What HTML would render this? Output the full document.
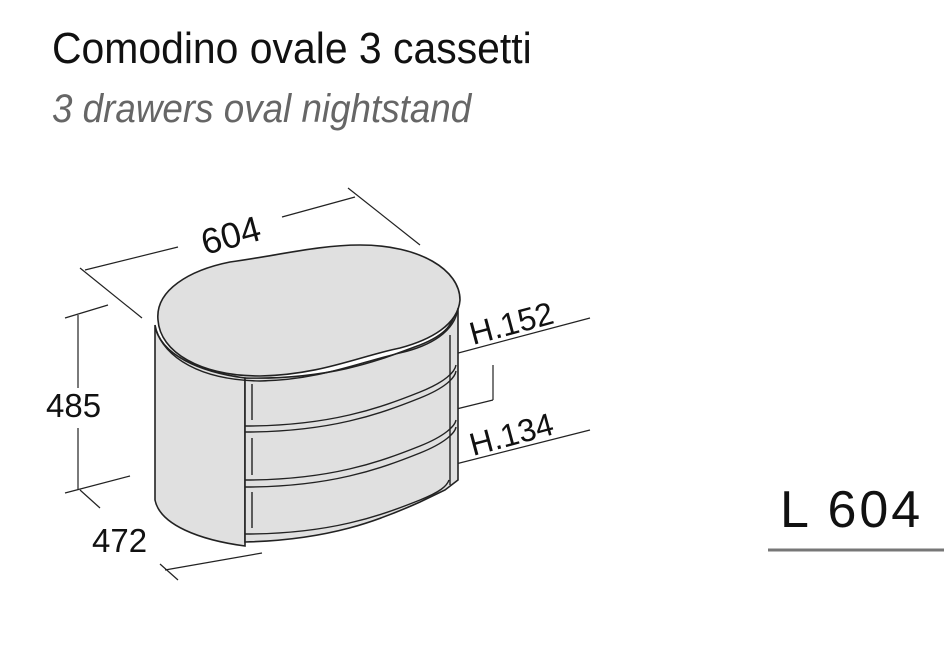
<!DOCTYPE html>
<html><head><style>
body{margin:0;width:944px;height:650px;background:#fff;overflow:hidden;font-family:"Liberation Sans",sans-serif}
svg{position:absolute;left:0;top:0}
</style></head><body>
<svg width="944" height="650" viewBox="0 0 944 650">
<text x="52" y="63" font-size="44" fill="#111" transform="translate(52,0) scale(0.93,1) translate(-52,0)">Comodino ovale 3 cassetti</text>
<text x="52" y="122" font-size="40" font-style="italic" fill="#666" transform="translate(52,0) scale(0.92,1) translate(-52,0)">3 drawers oval nightstand</text>
<g stroke="#222" stroke-width="1.2" fill="none">
<line x1="85" y1="270" x2="178" y2="247"/>
<line x1="282" y1="217" x2="355" y2="197"/>
<line x1="80" y1="268" x2="142" y2="318"/>
<line x1="348" y1="188" x2="420" y2="245"/>
<line x1="78" y1="315" x2="78" y2="388"/>
<line x1="78" y1="428" x2="78" y2="490"/>
<line x1="65" y1="318" x2="108" y2="305"/>
<line x1="65" y1="493" x2="130" y2="476"/>
<line x1="80" y1="490" x2="100" y2="508"/>
<line x1="160" y1="564" x2="178" y2="580"/>
<line x1="165" y1="570" x2="262" y2="553"/>
<line x1="432" y1="360" x2="590" y2="318"/>
<line x1="432" y1="415" x2="493" y2="400"/>
<line x1="493" y1="365" x2="493" y2="400"/>
<line x1="432" y1="470" x2="590" y2="430"/>
</g>
<text font-size="36" fill="#111" transform="translate(205,255) rotate(-15)">604</text>
<text x="46" y="417" font-size="33" fill="#111">485</text>
<text x="92" y="552" font-size="33" fill="#111">472</text>
<text font-size="32" fill="#111" transform="translate(473,345) rotate(-15)">H.152</text>
<text font-size="32" fill="#111" transform="translate(473,456) rotate(-15)">H.134</text>
<g stroke="#222" stroke-width="1.6" fill="#e0e0e0">
<path d="M155,325 L155,500 C160,525 200,540 245,546 L245,378 C200,372 160,355 155,325Z"/>
<path d="M245,378 C330,380 380,360 420,345 C445,335 455,325 458,300 L458,480 L445,490 L420,502 C380,520 330,540 245,542Z"/>
<path d="M158,320 C155,290 190,270 230,262 C280,255 320,245 360,245 C420,245 460,270 460,300 C458,325 430,340 400,348 C360,356 320,375 260,376 C200,376 160,352 158,320Z"/>
</g>
<g stroke="#222" stroke-width="1.4" fill="none">
<path d="M155,328 C165,358 200,380 260,381 C320,380 360,362 400,353 C430,346 455,332 458,308"/>
<path d="M245,426 C330,426 380,408 420,392 C445,382 455,372 456,365"/>
<path d="M245,432 C330,432 380,414 420,398 C445,388 455,378 456,371"/>
<path d="M245,480 C330,480 380,462 420,446 C445,436 455,426 456,420"/>
<path d="M245,487 C330,487 380,469 420,453 C445,443 455,433 456,427"/>
<path d="M245,534 C330,534 380,516 420,500 C440,492 447,486 449,480"/>
<line x1="252" y1="384" x2="252" y2="420"/>
<line x1="252" y1="438" x2="252" y2="475"/>
<line x1="252" y1="492" x2="252" y2="528"/>
<line x1="450" y1="335" x2="450" y2="485"/>
</g>
<text x="780" y="527" font-size="52" letter-spacing="3" fill="#111">L 604</text>
<line x1="768" y1="550" x2="944" y2="550" stroke="#777" stroke-width="3"/>
</svg>
</body></html>
